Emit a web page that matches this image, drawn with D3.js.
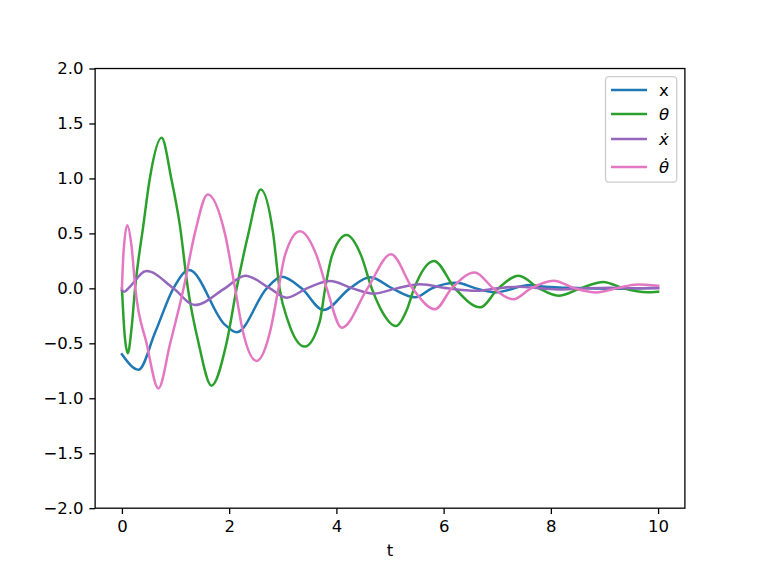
<!DOCTYPE html>
<html><head><meta charset="utf-8">
<script src="https://cdn.jsdelivr.net/npm/d3@7"></script>
<style>
body{margin:0;background:#fff;}
svg text{font-family:"DejaVu Sans",sans-serif;}
</style></head>
<body><svg id="c" width="761" height="571"></svg>
<script>
// ---- data ----
const xT = [0, 0.31, 0.62, 0.96, 1.25, 1.92, 2.14, 2.70, 2.98, 3.35, 3.76, 4.25, 4.63, 5.04, 5.47, 5.78, 6.24, 6.60, 6.96, 7.61, 7.89, 8.5, 9.1, 10];
const xV = [-0.60, -0.74, -0.40, 0, 0.166, -0.33, -0.40, 0, 0.105, 0, -0.198, 0, 0.10, 0, -0.082, 0, 0.05, 0, -0.036, 0.03, 0.015, 0.003, -0.003, 0.006];

const thT = [0, 0.05, 0.11, 0.18, 0.245, 0.40, 0.52, 0.74, 0.92, 1.08, 1.23, 1.43, 1.67, 1.95, 2.14, 2.36, 2.59, 2.82, 2.94, 3.10, 3.41, 3.69, 3.79, 3.92, 4.19, 4.46, 4.66, 4.84, 5.11, 5.31, 5.45, 5.82, 6.21, 6.68, 7.02, 7.40, 7.78, 8.14, 8.55, 8.98, 9.35, 9.80, 10];
const thV = [0, -0.42, -0.59, -0.36, 0, 0.575, 1.0, 1.37, 1.0, 0.575, 0, -0.5, -0.885, -0.5, 0, 0.5, 0.90, 0.5, 0, -0.3, -0.53, -0.3, 0, 0.3, 0.485, 0.3, 0, -0.2, -0.343, -0.2, 0, 0.25, 0, -0.173, 0, 0.115, 0, -0.067, 0, 0.058, 0, -0.035, -0.03];

const xdT = [0, 0.05, 0.12, 0.46, 0.96, 1.36, 1.92, 2.30, 2.76, 3.07, 3.45, 3.88, 4.30, 4.70, 5.12, 5.56, 6.08, 6.62, 7.0, 7.4, 7.8, 8.2, 8.65, 9.1, 9.6, 10];
const xdV = [-0.02, -0.03, 0, 0.157, 0, -0.152, 0, 0.115, 0, -0.085, 0, 0.066, 0, -0.048, 0, 0.038, 0, -0.022, 0, 0.015, 0, -0.01, 0, 0.006, 0, 0];

const tdT = [0, 0.03, 0.10, 0.18, 0.25, 0.46, 0.68, 0.90, 1.15, 1.36, 1.60, 1.92, 2.11, 2.26, 2.51, 2.76, 2.92, 3.04, 3.32, 3.63, 3.82, 4.10, 4.58, 5.02, 5.42, 5.84, 6.15, 6.58, 6.93, 7.30, 7.63, 8.05, 8.45, 8.85, 9.22, 9.62, 10];
const tdV = [0, 0.33, 0.575, 0.38, 0, -0.5, -0.91, -0.5, 0, 0.5, 0.855, 0.5, 0, -0.4, -0.66, -0.4, 0, 0.3, 0.52, 0.3, 0, -0.358, 0, 0.31, 0, -0.19, 0, 0.145, 0, -0.1, 0, 0.07, 0, -0.037, 0, 0.036, 0.024];

const xTicks = [0, 2, 4, 6, 8, 10];
const yTicks = [-2.0, -1.5, -1.0, -0.5, 0.0, 0.5, 1.0, 1.5, 2.0];
const seriesNames = ["x", "θ", "ẋ", "θ̇"];
const seriesColors = ["#1f77b4", "#2ca02c", "#9467bd", "#e377c2"];
const xLabel = "t";

// ---- layout ----
const W = 761, H = 571;
const L = 0.125 * W, R = 0.9 * W, T = 0.12 * H, B = 0.89 * H;
const fs = 16.5;
const svg = d3.select("#c");

const x = d3.scaleLinear().domain([-0.5, 10.5]).range([L, R]);
const y = d3.scaleLinear().domain([-2, 2]).range([B, T]);

const series = [
  {t: xT, v: xV}, {t: thT, v: thV}, {t: xdT, v: xdV}, {t: tdT, v: tdV}
];

svg.append("defs").append("clipPath").attr("id", "clip")
  .append("rect").attr("x", L).attr("y", T).attr("width", R - L).attr("height", B - T);

const line = d3.line().x(d => x(d[0])).y(d => y(d[1])).curve(d3.curveMonotoneX);
const g = svg.append("g").attr("clip-path", "url(#clip)");
series.forEach((s, i) => {
  const pts = s.t.map((t, j) => [t, s.v[j]]);
  g.append("path").attr("d", line(pts)).attr("fill", "none")
    .attr("stroke", seriesColors[i]).attr("stroke-width", 2.5)
    .attr("stroke-linejoin", "round").attr("stroke-linecap", "square");
});

// axes
const fmtY = d => (d < 0 ? "\u2212" : "") + Math.abs(d).toFixed(1);
const xAxis = d3.axisBottom(x).tickValues(xTicks).tickSize(5.8).tickPadding(5.8).tickFormat(d3.format("d"));
const yAxis = d3.axisLeft(y).tickValues(yTicks).tickSize(5.8).tickPadding(5.8).tickFormat(fmtY);
const gx = svg.append("g").attr("transform", `translate(0,${B})`).call(xAxis);
const gy = svg.append("g").attr("transform", `translate(${L},0)`).call(yAxis);
[gx, gy].forEach(a => {
  a.select(".domain").remove();
  a.selectAll(".tick line").attr("stroke", "#000").attr("stroke-width", 1.3);
  a.selectAll(".tick text").attr("font-size", fs).attr("fill", "#000")
    .attr("font-family", "DejaVu Sans");
});

// frame
svg.append("rect").attr("x", L).attr("y", T).attr("width", R - L).attr("height", B - T)
  .attr("fill", "none").attr("stroke", "#000").attr("stroke-width", 1.3);

// x label
svg.append("text").attr("x", (L + R) / 2).attr("y", 556).attr("text-anchor", "middle")
  .attr("font-size", fs).attr("fill", "#000").text(xLabel);

// legend
const lg = svg.append("g");
lg.append("rect").attr("x", 605.5).attr("y", 76.7).attr("width", 71.2).attr("height", 105.5)
  .attr("rx", 3.5).attr("fill", "#fff").attr("fill-opacity", 0.8)
  .attr("stroke", "#cccccc").attr("stroke-width", 1.3);
const rowsY = [90, 114, 139, 167];
seriesNames.forEach((n, i) => {
  lg.append("line").attr("x1", 611).attr("x2", 647).attr("y1", rowsY[i]).attr("y2", rowsY[i])
    .attr("stroke", seriesColors[i]).attr("stroke-width", 2.5);
  lg.append("text").attr("x", 659).attr("y", rowsY[i] + 6).attr("font-size", fs)
    .attr("fill", "#000").attr("font-style", i === 0 ? "normal" : "italic").text(n);
});
</script></body></html>
